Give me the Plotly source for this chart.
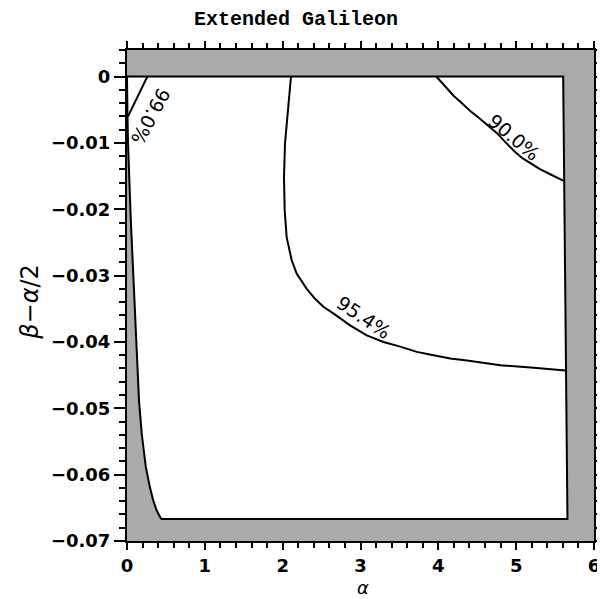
import plotly.graph_objects as go

# Allowed (white) region boundary: top edge, right edge, bottom edge, left curve
bound_alpha = [0.0, 5.604, 5.659, 0.443, 0.421, 0.378, 0.335, 0.292, 0.241, 0.189,
               0.154, 0.12, 0.09, 0.05, 0.022, 0.013, 0.005, 0.0]
bound_beta = [0.0, 0.0, -0.0667, -0.0667, -0.0663, -0.0653, -0.0638, -0.0618, -0.0588, -0.0538,
              -0.0488, -0.041, -0.0322, -0.022, -0.0142, -0.010, -0.005, 0.0]

# 99.0% contour
c99_alpha = [0.013, 0.262]
c99_beta = [-0.006, 0.0]

# 90.0% contour
c90_alpha = [3.974, 4.1, 4.196, 4.31, 4.41, 4.52, 4.625, 4.75, 4.87, 4.98, 5.08, 5.183, 5.3, 5.45, 5.604]
c90_beta = [0.0, -0.0016, -0.0029, -0.0041, -0.0052, -0.0062, -0.0072, -0.0085, -0.0100, -0.0113, -0.0123,
            -0.0131, -0.0139, -0.0148, -0.0157]

# 95.4% contour
c954_alpha = [2.107, 2.072, 2.03, 2.017, 2.026, 2.051, 2.116, 2.18, 2.265, 2.309, 2.416,
              2.523, 2.651, 2.866, 3.081, 3.295, 3.51, 3.724, 3.938, 4.153, 4.368,
              4.582, 4.797, 5.225, 5.633]
c954_beta = [0.0, -0.0051, -0.0101, -0.0152, -0.0202, -0.0242, -0.0277, -0.0297, -0.0312, -0.0320, -0.0335,
             -0.0347, -0.0357, -0.0375, -0.039, -0.040, -0.0407, -0.0415, -0.042, -0.0425, -0.0428,
             -0.0432, -0.0435, -0.0439, -0.0443]

contour_labels = ["99.0%", "90.0%", "95.4%"]
label_alpha = [0.30, 4.97, 3.04]
label_beta = [-0.0060, -0.0091, -0.0362]
label_angle = [118, 40, 34]

x_ticks = [0, 1, 2, 3, 4, 5, 6]
y_ticks = [0, -0.01, -0.02, -0.03, -0.04, -0.05, -0.06, -0.07]
y_ticktext = ["0", "\u22120.01", "\u22120.02", "\u22120.03", "\u22120.04", "\u22120.05", "\u22120.06", "\u22120.07"]

fig = go.Figure()
fig.add_trace(go.Scatter(x=bound_alpha, y=bound_beta, mode="lines", fill="toself",
                         fillcolor="white", line=dict(color="black", width=2),
                         hoverinfo="skip", showlegend=False))
for xa, ya in [(c99_alpha, c99_beta), (c90_alpha, c90_beta), (c954_alpha, c954_beta)]:
    fig.add_trace(go.Scatter(x=xa, y=ya, mode="lines", line=dict(color="black", width=2),
                             showlegend=False))

for t, a, b, ang in zip(contour_labels, label_alpha, label_beta, label_angle):
    fig.add_annotation(x=a, y=b, text=t, showarrow=False, textangle=ang,
                       font=dict(family="DejaVu Sans", size=19, color="black"))

# axis titles
fig.add_annotation(xref="paper", yref="paper", x=0.505, y=-0.0947, text="<i>α</i>",
                   showarrow=False, xanchor="center", yanchor="middle", borderpad=0,
                   font=dict(family="DejaVu Sans", size=18, color="black"))
fig.add_annotation(xref="paper", yref="paper", x=-0.208, y=0.487,
                   text="<i>β</i>\u2212<i>α</i>/2", textangle=-90,
                   showarrow=False, xanchor="center", yanchor="middle",
                   font=dict(family="DejaVu Sans", size=24, color="black"))

axis_common = dict(showgrid=False, zeroline=False, showline=True, linecolor="black",
                   linewidth=2, mirror="allticks", ticks="outside",
                   tickwidth=2, tickcolor="black", automargin=False,
                   tickfont=dict(family="DejaVu Sans", size=18, color="black", weight="bold"))

fig.update_xaxes(range=[0, 6], tickvals=x_ticks, ticklen=7,
                 minor=dict(dtick=0.2, tick0=0, ticks="outside", ticklen=5, tickwidth=1.5,
                            tickcolor="black", showgrid=False),
                 **axis_common)
fig.update_yaxes(range=[-0.07, 0.004], tickvals=y_ticks, ticktext=y_ticktext, ticklen=11,
                 minor=dict(dtick=0.002, tick0=0, ticks="outside", ticklen=6, tickwidth=1.5,
                            tickcolor="black", showgrid=False),
                 **axis_common)

# the page adds an 8px body margin, so the figure is sized/offset accordingly
fig.update_layout(
    width=597, height=591,
    margin=dict(l=119, r=11, t=42, b=58, autoexpand=False),
    plot_bgcolor="#aaaaaa", paper_bgcolor="white",
    title=dict(text="<b>Extended Galileon</b>", x=288 / 597, xanchor="center", xref="container",
               y=1 - 10 / 591, yanchor="middle", yref="container",
               font=dict(family="Liberation Mono", size=20, color="black")),
    showlegend=False,
)

fig.write_html("out.html")
